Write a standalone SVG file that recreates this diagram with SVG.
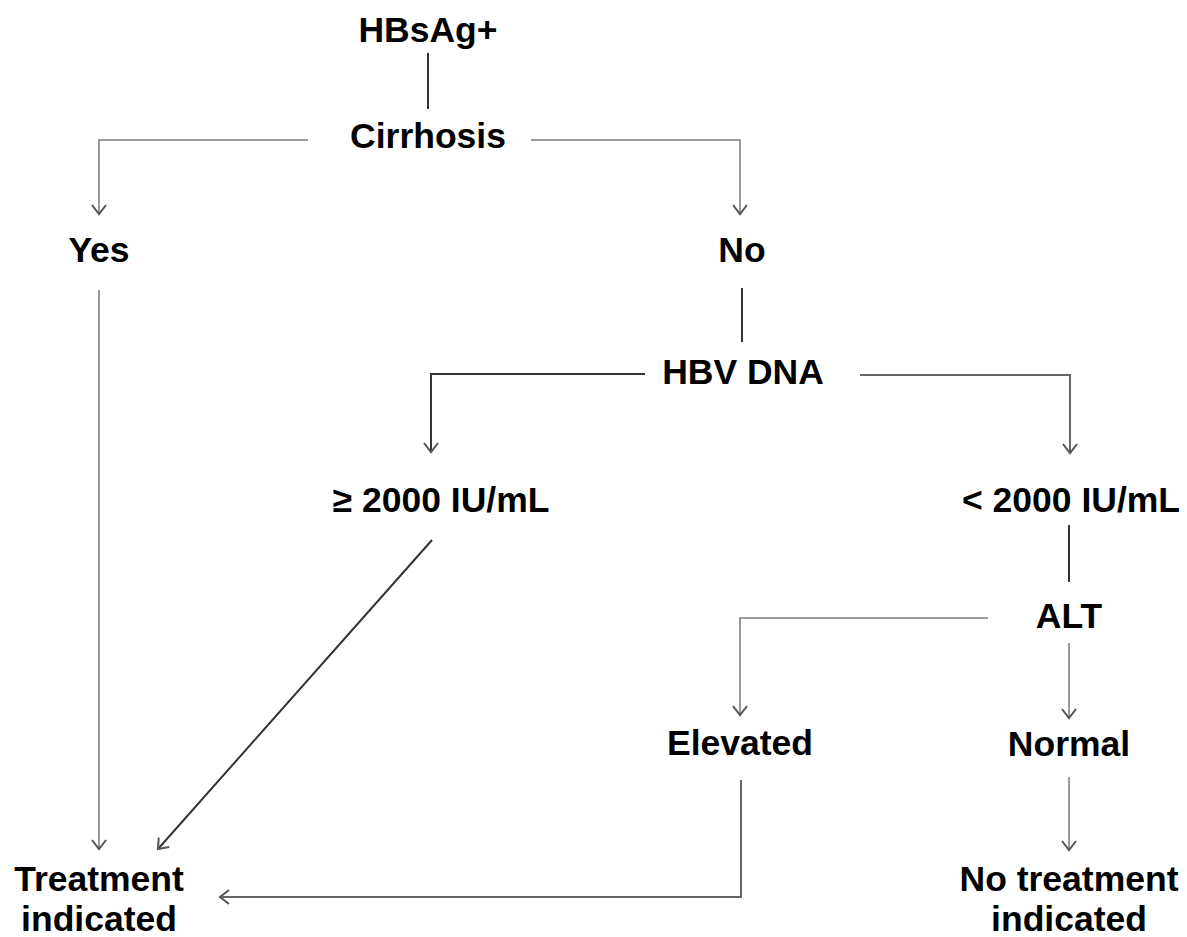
<svg xmlns="http://www.w3.org/2000/svg" width="1187" height="937" viewBox="0 0 1187 937">
<style>
text{font-family:"Liberation Sans",Arial,sans-serif;font-weight:bold;font-size:35.5px;fill:#000;text-anchor:middle}
.c{fill:none;stroke-width:2}
.g{stroke:#9a9a9a}
.d{stroke:#333}
.m{stroke:#666}
</style>
<defs>
<marker id="ag" markerUnits="userSpaceOnUse" viewBox="-10 -10 20 20" markerWidth="20" markerHeight="20" refX="0" refY="0" orient="auto">
<path d="M-9,-7 L0,0 L-9,7" fill="none" stroke="#555" stroke-width="2"/>
</marker>
</defs>
<rect width="1187" height="937" fill="#fff"/>
<g id="connectors">
<path class="c d" d="M428,53 V109"/>
<path class="c g" d="M308,140 H99 V214" marker-end="url(#ag)"/>
<path class="c g" d="M531,140 H740 V214" marker-end="url(#ag)"/>
<path class="c g" d="M99,290 V849" marker-end="url(#ag)"/>
<path class="c d" d="M742,288 V342"/>
<path class="c d" d="M645,374 H431 V452" marker-end="url(#ag)"/>
<path class="c m" d="M860,375 H1070 V453" marker-end="url(#ag)"/>
<path class="c d" d="M432,540 L158,849" marker-end="url(#ag)"/>
<path class="c d" d="M1069,525 V582"/>
<path class="c g" d="M988,618 H740 V715" marker-end="url(#ag)"/>
<path class="c g" d="M1069,643 V718" marker-end="url(#ag)"/>
<path class="c m" d="M741,780 V897 H220" marker-end="url(#ag)"/>
<path class="c g" d="M1069,777 V850" marker-end="url(#ag)"/>
</g>
<g id="n-hbsag"><text x="428" y="42">HBsAg+</text></g>
<g id="n-cirrhosis"><text x="428" y="148">Cirrhosis</text></g>
<g id="n-yes"><text x="99" y="262">Yes</text></g>
<g id="n-no"><text x="742" y="262">No</text></g>
<g id="n-hbvdna"><text x="743" y="384">HBV DNA</text></g>
<g id="n-ge2000"><text x="441" y="512">≥ 2000 IU/mL</text></g>
<g id="n-lt2000"><text x="1071" y="512">&lt; 2000 IU/mL</text></g>
<g id="n-alt"><text x="1069" y="628">ALT</text></g>
<g id="n-elevated"><text x="740" y="755">Elevated</text></g>
<g id="n-normal"><text x="1069" y="756">Normal</text></g>
<g id="n-treat"><text x="99" y="891">Treatment</text><text x="99" y="931">indicated</text></g>
<g id="n-notreat"><text x="1069" y="891">No treatment</text><text x="1069" y="931">indicated</text></g>
</svg>
